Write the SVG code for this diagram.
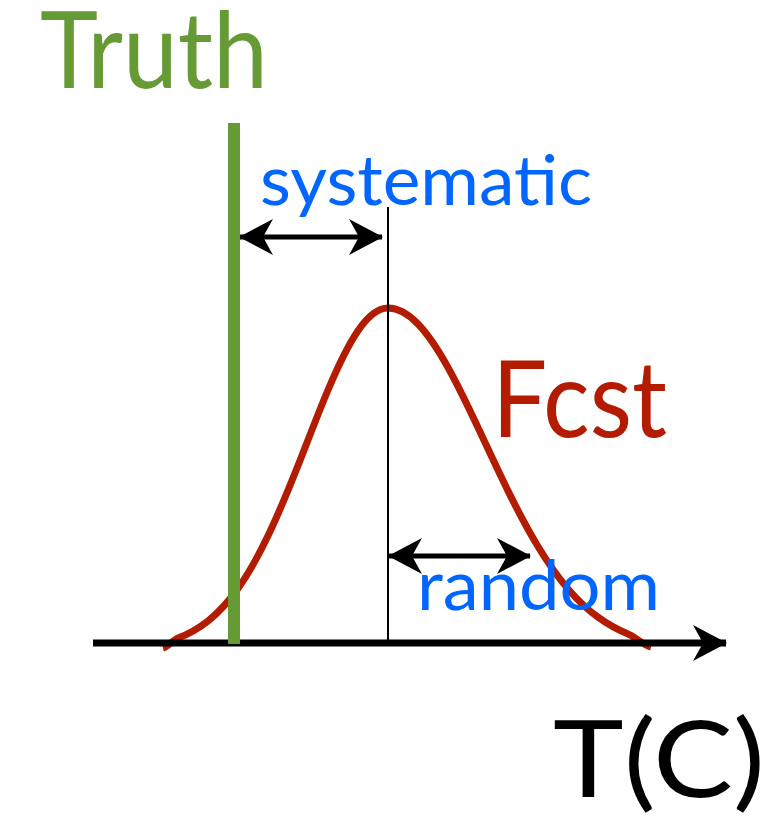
<svg xmlns="http://www.w3.org/2000/svg" width="769" height="821" viewBox="0 0 769 821">
<style>
text{font-family:Lato,"Open Sans","Liberation Sans",sans-serif;}
.blue{fill:#0066ff;font-size:70px;}
.big{font-size:106px;}
.arr{stroke:#000;stroke-width:5;fill:none;}
</style>
<defs>
<marker id="ah" viewBox="0 0 34 36" refX="33" refY="18" markerWidth="34" markerHeight="36" markerUnits="userSpaceOnUse" orient="auto-start-reverse">
<path d="M0,0 L34,18 L0,36 L10,18 Z" fill="#000"/>
</marker>
</defs>
<rect width="769" height="821" fill="#fff"/>
<g id="curve">
<path d="M163,648 C168,646.8 173,640 178,638.1 C188,634.3 198,628.95 208,621 C218,613.05 228,602.47 238,588.4 C248,574.33 258,556.68 268,535.8 C278,514.92 288,490.8 298,465.5 C308,440.2 318,413.77 328,390 C338,366.23 348,345.3 358,330.7 C368,316.1 378,308 388,308 C398,308 408,313.6 418,324 C428,334.4 438,349.5 448,367.5 C458,385.5 468,406.3 478,427.6 C488,448.9 498,470.6 508,490.9 C518,511.2 528,530 538,546.5 C548,563 558,577.2 568,588.9 C578,600.6 588,609.9 598,617.2 C608,624.5 618,629.9 628,634 C635.7,637.1 643.3,645.2 651,647" fill="none" stroke="#b31c00" stroke-width="7"/>
</g>
<g id="connectors">
<line x1="93" y1="643" x2="726" y2="643" stroke="#000" stroke-width="7" marker-end="url(#ah)"/>
<line x1="388" y1="207" x2="388" y2="643" stroke="#000" stroke-width="2"/>
<line class="arr" x1="240" y1="237" x2="382" y2="237" marker-start="url(#ah)" marker-end="url(#ah)"/>
<line class="arr" x1="389" y1="556" x2="530" y2="556" marker-start="url(#ah)" marker-end="url(#ah)"/>
</g>
<g id="truth-line"><rect x="228" y="123" width="12" height="521" fill="#669a35"/></g>
<g id="truth"><text class="big" x="40" y="88" fill="#669a35" textLength="228" lengthAdjust="spacingAndGlyphs">Truth</text></g>
<g id="fcst"><text class="big" x="492" y="437" fill="#b31c00" textLength="175" lengthAdjust="spacingAndGlyphs">Fcst</text></g>
<g id="systematic"><text class="blue" x="260" y="205" textLength="332" lengthAdjust="spacingAndGlyphs">systematic</text></g>
<g id="random"><text class="blue" x="417" y="610" textLength="243" lengthAdjust="spacingAndGlyphs">random</text></g>
<g id="axis-label"><text class="big" x="553" y="797" fill="#000" textLength="212" lengthAdjust="spacingAndGlyphs">T(C)</text></g>
</svg>
